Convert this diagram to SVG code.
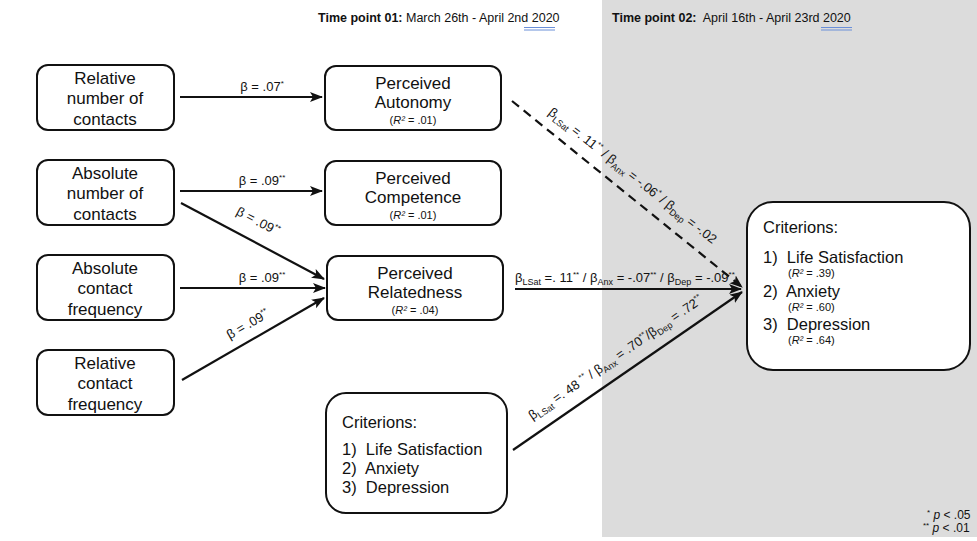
<svg xmlns="http://www.w3.org/2000/svg" width="977" height="541" viewBox="0 0 977 541">
<style>
text{font-family:"Liberation Sans",Arial,sans-serif;fill:#111;white-space:pre}
.box{fill:#fff;stroke:#111;stroke-width:2}
.t{font-size:17px;text-anchor:middle}
.r{font-size:11px;text-anchor:middle}
.c{font-size:16.5px}
.rr{font-size:11px}
.lab{font-size:13px}
.e{stroke:#111;stroke-width:2.2;fill:none}
.sub{font-size:9px}
.sup{font-size:8px}
</style>
<defs>
<marker id="ah" markerUnits="userSpaceOnUse" markerWidth="14" markerHeight="12" refX="12" refY="5" orient="auto">
<path d="M0,0 L13,5 L0,10 L3,5 Z" fill="#111"/>
</marker>
</defs>
<rect x="0" y="0" width="977" height="541" fill="#fff"/>
<rect x="602" y="0" width="375" height="537" fill="#dcdcdc"/>
<g id="header">
<text x="318" y="22" xml:space="preserve" style="font-size:12.5px"><tspan font-weight="bold">Time point 01:</tspan> March 26th - April 2nd 2020</text>
<text x="612" y="22" xml:space="preserve" style="font-size:12.5px"><tspan font-weight="bold">Time point 02:</tspan>  April 16th - April 23rd 2020</text>
<path d="M524,27.5 H555 M524,30 H555 M821,27.5 H852 M821,30 H852" stroke="#6a8fd8" stroke-width="1"/>
</g>
<g id="connectors">
<line class="e" x1="180" y1="97" x2="322" y2="97" marker-end="url(#ah)"/>
<line class="e" x1="180" y1="191" x2="322" y2="191" marker-end="url(#ah)"/>
<line class="e" x1="181" y1="203" x2="324" y2="279" marker-end="url(#ah)"/>
<line class="e" x1="180" y1="288" x2="325" y2="288" marker-end="url(#ah)"/>
<line class="e" x1="182" y1="380" x2="324" y2="298" marker-end="url(#ah)"/>
<line class="e" x1="512" y1="101" x2="742" y2="287" stroke-dasharray="9,6" marker-end="url(#ah)"/>
<line class="e" x1="515" y1="289" x2="741" y2="289" marker-end="url(#ah)"/>
<line class="e" x1="513" y1="450" x2="742" y2="292" marker-end="url(#ah)"/>
<text class="lab" x="262" y="91" text-anchor="middle">β = .07<tspan class="sup" dy="-5">*</tspan></text>
<text class="lab" x="262" y="185" text-anchor="middle">β = .09<tspan class="sup" dy="-5">**</tspan></text>
<text class="lab" x="262" y="282" text-anchor="middle">β = .09<tspan class="sup" dy="-5">**</tspan></text>
<text class="lab" text-anchor="middle" transform="translate(256,225) rotate(27.7)">β = .09<tspan class="sup" dy="-5">**</tspan></text>
<text class="lab" text-anchor="middle" transform="translate(250,328) rotate(-29.8)">β = .09<tspan class="sup" dy="-5">**</tspan></text>
<text class="lab" x="515" y="282">β<tspan class="sub" dy="3">LSat</tspan><tspan dy="-3"> =. 11</tspan><tspan class="sup" dy="-5">**</tspan><tspan dy="5"> / β</tspan><tspan class="sub" dy="3">Anx</tspan><tspan dy="-3"> = -.07</tspan><tspan class="sup" dy="-5">**</tspan><tspan dy="5"> / β</tspan><tspan class="sub" dy="3">Dep</tspan><tspan dy="-3"> = -.09</tspan><tspan class="sup" dy="-5">**</tspan></text>
<text class="lab" text-anchor="middle" transform="translate(630,179) rotate(38.4)">β<tspan class="sub" dy="3">LSat</tspan><tspan dy="-3"> =. 11</tspan><tspan class="sup" dy="-5">**</tspan><tspan dy="5"> / β</tspan><tspan class="sub" dy="3">Anx</tspan><tspan dy="-3"> = -.06</tspan><tspan class="sup" dy="-5">*</tspan><tspan dy="5"> / β</tspan><tspan class="sub" dy="3">Dep</tspan><tspan dy="-3"> = -.02</tspan></text>
<text class="lab" text-anchor="middle" transform="translate(618,361) rotate(-34.6)">β<tspan class="sub" dy="3">LSat</tspan><tspan dy="-3"> =. 48 </tspan><tspan class="sup" dy="-5">**</tspan><tspan dy="5"> / β</tspan><tspan class="sub" dy="3">Anx</tspan><tspan dy="-3"> = .70</tspan><tspan class="sup" dy="-5">**</tspan><tspan dy="5">/β</tspan><tspan class="sub" dy="3">Dep</tspan><tspan dy="-3"> = .72</tspan><tspan class="sup" dy="-5">**</tspan></text>
</g>
<g id="n1"><rect class="box" x="37" y="65" width="137" height="65" rx="11"/>
<text class="t" x="105" y="84">Relative</text><text class="t" x="105" y="104">number of</text><text class="t" x="105" y="125">contacts</text></g>
<g id="n2"><rect class="box" x="37" y="160" width="137" height="65" rx="11"/>
<text class="t" x="105" y="179">Absolute</text><text class="t" x="105" y="199">number of</text><text class="t" x="105" y="220">contacts</text></g>
<g id="n3"><rect class="box" x="37" y="255" width="137" height="65" rx="11"/>
<text class="t" x="105" y="274">Absolute</text><text class="t" x="105" y="294">contact</text><text class="t" x="105" y="315">frequency</text></g>
<g id="n4"><rect class="box" x="37" y="350" width="137" height="65" rx="11"/>
<text class="t" x="105" y="369">Relative</text><text class="t" x="105" y="389">contact</text><text class="t" x="105" y="410">frequency</text></g>
<g id="nA"><rect class="box" x="325" y="66" width="176" height="64" rx="11"/>
<text class="t" x="413" y="89">Perceived</text><text class="t" x="413" y="108">Autonomy</text><text class="r" x="413" y="124">(<tspan font-style="italic">R²</tspan> = .01)</text></g>
<g id="nB"><rect class="box" x="325" y="161" width="176" height="64" rx="11"/>
<text class="t" x="413" y="184">Perceived</text><text class="t" x="413" y="203">Competence</text><text class="r" x="413" y="219">(<tspan font-style="italic">R²</tspan> = .01)</text></g>
<g id="nC"><rect class="box" x="327" y="256" width="176" height="64" rx="11"/>
<text class="t" x="415" y="279">Perceived</text><text class="t" x="415" y="298">Relatedness</text><text class="r" x="415" y="314">(<tspan font-style="italic">R²</tspan> = .04)</text></g>
<g id="nT1"><rect class="box" x="326" y="393" width="181" height="120" rx="20"/>
<text class="c" x="342" y="428">Criterions:</text>
<text class="c" x="342" y="455" xml:space="preserve">1)  Life Satisfaction</text>
<text class="c" x="342" y="474" xml:space="preserve">2)  Anxiety</text>
<text class="c" x="342" y="493" xml:space="preserve">3)  Depression</text></g>
<g id="nT2"><rect class="box" x="747" y="202" width="223" height="168" rx="26"/>
<text class="c" x="763" y="233">Criterions:</text>
<text class="c" x="763" y="263" xml:space="preserve">1)  Life Satisfaction</text>
<text class="rr" x="788" y="277">(<tspan font-style="italic">R²</tspan> = .39)</text>
<text class="c" x="763" y="297" xml:space="preserve">2)  Anxiety</text>
<text class="rr" x="788" y="311">(<tspan font-style="italic">R²</tspan> = .60)</text>
<text class="c" x="763" y="330" xml:space="preserve">3)  Depression</text>
<text class="rr" x="788" y="344">(<tspan font-style="italic">R²</tspan> = .64)</text></g>
<g id="legend">
<text x="927" y="519" style="font-size:12px"><tspan class="sup" dy="-4">*</tspan><tspan dy="4" font-style="italic"> p</tspan> &lt; .05</text>
<text x="923" y="532" style="font-size:12px"><tspan class="sup" dy="-4">**</tspan><tspan dy="4" font-style="italic"> p</tspan> &lt; .01</text>
</g>
</svg>
